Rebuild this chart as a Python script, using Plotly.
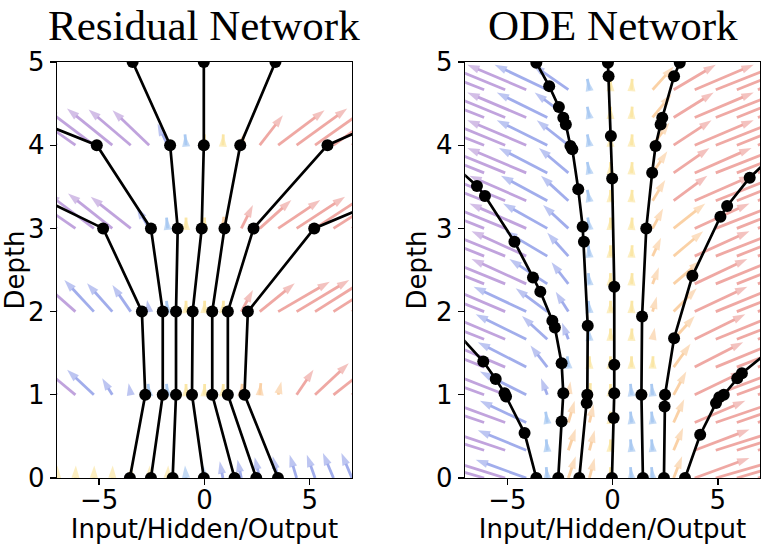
import plotly.graph_objects as go

# ---------------- data ----------------
# Residual network: hidden state at each integer depth
res_depth = [0, 1, 2, 3, 4, 5]
res_traj_a = [-3.54, -2.81, -2.97, -4.81, -12.9, -21.0]
res_traj_b = [-2.54, -1.98, -1.98, -2.54, -5.11, -15.0]
res_traj_c = [-1.51, -1.35, -1.35, -1.27, -1.63, -3.41]
res_traj_d = [-0.03, -0.59, -0.56, -0.13, -0.03, -0.03]
res_traj_e = [1.43, 0.37, 0.37, 0.95, 1.70, 3.37]
res_traj_f = [2.46, 1.11, 1.11, 2.33, 5.84, 14.7]
res_traj_g = [3.49, 1.90, 2.06, 5.21, 14.6, 23.0]

# Residual vector field (tails on a grid, one row per depth)
res_field_x = [-7, -6.125, -5.25, -4.375, -3.5, -2.625, -1.75, -0.875, 0,
               0.875, 1.75, 2.625, 3.5, 4.375, 5.25, 6.125, 7]
res_field_y = [0, 1, 2, 3, 4]
res_field_dx = [
    [0.02, 0.02, 0.02, 0.02, 0.02, 0.03, 0.03, -0.05, -0.05, -0.15, -0.18, -0.24, -0.26, -0.33, -0.39, -0.5, -0.5],
    [-2.0, -1.9, -1.27, -0.48, -0.1, -0.05, -0.05, 0.0, 0.01, 0.02, 0.04, 0.05, 0.15, 0.8, 1.6, 2.0, 2.2],
    [-2.2, -1.8, -1.4, -1.2, -0.87, -0.1, -0.05, 0.0, 0.01, 0.03, 0.55, 1.66, 2.45, 2.5, 2.5, 2.5, 2.5],
    [-2.6, -2.4, -2.2, -2.1, -1.9, -0.6, -0.05, 0.0, 0.01, 0.04, 0.55, 1.5, 2.0, 2.3, 2.4, 2.5, 2.5],
    [-2.6, -2.5, -2.3, -2.15, -2.0, -1.74, -0.48, -0.05, 0.0, 0.02, 0.15, 1.1, 2.2, 2.4, 2.5, 2.5, 2.6],
]
res_field_dy = [
    [0.15, 0.15, 0.15, 0.15, 0.15, 0.15, 0.15, 0.15, 0.15, 0.2, 0.22, 0.25, 0.26, 0.28, 0.28, 0.3, 0.3],
    [0.4, 0.4, 0.3, 0.2, 0.14, 0.13, 0.13, 0.13, 0.13, 0.13, 0.13, 0.14, 0.16, 0.3, 0.38, 0.4, 0.4],
    [0.4, 0.4, 0.38, 0.34, 0.32, 0.14, 0.13, 0.13, 0.13, 0.13, 0.26, 0.34, 0.36, 0.38, 0.4, 0.4, 0.4],
    [0.42, 0.42, 0.42, 0.42, 0.38, 0.26, 0.13, 0.13, 0.13, 0.14, 0.28, 0.34, 0.34, 0.38, 0.4, 0.4, 0.4],
    [0.45, 0.45, 0.44, 0.44, 0.43, 0.42, 0.26, 0.13, 0.13, 0.13, 0.16, 0.36, 0.42, 0.44, 0.45, 0.45, 0.45],
]

# ODE network: solver evaluation points along each trajectory
ode_a_x = [-3.62, -4.18, -5.06, -5.13, -5.55, -6.14, -8.3]
ode_a_y = [0, 0.54, 0.98, 1.02, 1.19, 1.40, 2.0]
ode_b_x = [-2.58, -2.42, -2.34, -2.42, -2.74, -2.86, -3.43, -3.78, -4.66, -6.06, -6.44, -8.6]
ode_b_y = [0, 0.68, 1.02, 1.38, 1.81, 1.89, 2.24, 2.41, 2.84, 3.39, 3.51, 4.0]
ode_c_x = [-1.58, -1.23, -1.20, -1.18, -1.36, -1.42, -1.63, -1.91, -2.0, -2.22, -2.34, -2.55, -3.01, -3.62]
ode_c_y = [0, 0.90, 1.0, 1.83, 2.84, 3.02, 3.47, 3.95, 3.99, 4.25, 4.33, 4.46, 4.71, 4.99]
ode_d_x = [-0.03, 0.05, 0.08, 0.08, 0.08, -0.02, -0.08, -0.19, -0.22]
ode_d_y = [0, 0.72, 1.02, 1.36, 2.30, 3.60, 4.11, 4.83, 4.99]
ode_e_x = [1.44, 1.37, 1.40, 1.60, 1.88, 2.04, 2.28, 2.36, 2.92, 3.19]
ode_e_y = [0, 1.0, 1.94, 3.0, 3.67, 3.99, 4.25, 4.33, 4.83, 4.99]
ode_f_x = [2.44, 2.47, 2.49, 2.92, 3.79, 5.12, 5.44, 6.51, 8.0]
ode_f_y = [0, 0.86, 1.0, 1.68, 2.43, 3.14, 3.27, 3.61, 3.97]
ode_g_x = [3.44, 4.16, 4.91, 5.07, 5.28, 5.92, 6.14, 7.8]
ode_g_y = [0, 0.52, 0.90, 0.97, 1.0, 1.20, 1.26, 1.6]

# ODE vector field
ode_field_x = [-6.1, -5.1, -4.1, -3.1, -2.1, -1.1, -0.1, 0.9, 1.9, 2.9, 3.9, 4.9, 5.9, 6.9]
ode_field_y = [0, 0.333, 0.667, 1.0, 1.333, 1.667, 2.0, 2.333, 2.667, 3.0, 3.333, 3.667, 4.0, 4.333, 4.667]
ode_field_dx = [
    [-3.0, -2.8, -2.4, -0.05, 0.35, 0.25, 0.0, -0.05, -0.05, 0.4, 2.6, 3.0, 3.0, 3.0],
    [-3.0, -2.8, -2.3, -0.05, 0.35, 0.25, 0.0, -0.05, -0.05, 0.45, 2.6, 3.0, 3.0, 3.0],
    [-3.0, -2.8, -2.2, -0.08, 0.3, 0.2, 0.0, -0.05, -0.05, 0.5, 2.4, 3.0, 3.0, 3.0],
    [-3.0, -2.8, -2.2, -0.3, 0.1, 0.05, 0.0, -0.05, -0.05, 0.6, 2.3, 2.9, 3.0, 3.0],
    [-3.0, -2.8, -2.3, -0.8, -0.05, 0.0, 0.0, 0.0, 0.02, 0.8, 2.3, 2.9, 3.0, 3.0],
    [-3.0, -2.8, -2.4, -1.2, -0.3, -0.05, 0.0, 0.02, 0.1, 1.0, 2.4, 2.9, 3.0, 3.0],
    [-3.0, -2.8, -2.5, -1.5, -0.6, -0.05, 0.0, 0.02, 0.2, 1.1, 2.5, 2.9, 3.0, 3.0],
    [-3.0, -2.9, -2.6, -1.8, -0.8, -0.05, 0.0, 0.03, 0.3, 1.3, 2.5, 2.9, 3.0, 3.0],
    [-3.0, -2.9, -2.6, -2.0, -1.0, -0.05, 0.0, 0.03, 0.4, 1.4, 2.6, 3.0, 3.0, 3.0],
    [-3.0, -2.9, -2.7, -2.1, -1.2, -0.08, 0.0, 0.03, 0.5, 1.5, 2.6, 3.0, 3.0, 3.0],
    [-3.0, -2.9, -2.7, -2.2, -1.3, -0.1, 0.0, 0.03, 0.6, 1.6, 2.7, 3.0, 3.0, 3.0],
    [-3.0, -2.9, -2.8, -2.3, -1.4, -0.1, 0.0, 0.03, 0.7, 1.7, 2.7, 3.0, 3.0, 3.0],
    [-3.0, -2.9, -2.8, -2.4, -1.5, -0.1, 0.0, 0.03, 0.8, 1.8, 2.8, 3.0, 3.0, 3.0],
    [-3.0, -2.9, -2.8, -2.4, -1.6, -0.1, 0.0, 0.03, 0.9, 1.9, 2.8, 3.0, 3.0, 3.0],
    [-3.0, -2.9, -2.8, -2.5, -1.7, -0.1, 0.0, 0.03, 1.0, 2.0, 2.8, 3.0, 3.0, 3.0],
]
ode_field_dy = [
    [0.22, 0.22, 0.22, 0.13, 0.26, 0.24, 0.13, 0.13, 0.13, 0.26, 0.24, 0.22, 0.22, 0.22],
    [0.24, 0.24, 0.24, 0.13, 0.26, 0.24, 0.13, 0.13, 0.13, 0.27, 0.25, 0.24, 0.24, 0.24],
    [0.26, 0.26, 0.26, 0.13, 0.26, 0.22, 0.13, 0.13, 0.13, 0.28, 0.26, 0.26, 0.26, 0.26],
    [0.28, 0.28, 0.28, 0.2, 0.16, 0.14, 0.13, 0.13, 0.13, 0.28, 0.28, 0.28, 0.28, 0.28],
    [0.3, 0.3, 0.3, 0.26, 0.13, 0.13, 0.13, 0.13, 0.13, 0.28, 0.3, 0.3, 0.3, 0.3],
    [0.3, 0.3, 0.3, 0.28, 0.2, 0.13, 0.13, 0.13, 0.14, 0.28, 0.3, 0.3, 0.3, 0.3],
    [0.3, 0.3, 0.3, 0.28, 0.24, 0.13, 0.13, 0.13, 0.18, 0.28, 0.3, 0.3, 0.3, 0.3],
    [0.3, 0.3, 0.3, 0.3, 0.26, 0.13, 0.13, 0.13, 0.2, 0.28, 0.3, 0.3, 0.3, 0.3],
    [0.3, 0.3, 0.3, 0.3, 0.28, 0.13, 0.13, 0.13, 0.22, 0.3, 0.3, 0.3, 0.3, 0.3],
    [0.3, 0.3, 0.3, 0.3, 0.28, 0.13, 0.13, 0.13, 0.24, 0.3, 0.3, 0.3, 0.3, 0.3],
    [0.3, 0.3, 0.3, 0.3, 0.3, 0.13, 0.13, 0.13, 0.25, 0.3, 0.3, 0.3, 0.3, 0.3],
    [0.3, 0.3, 0.3, 0.3, 0.3, 0.13, 0.13, 0.13, 0.26, 0.3, 0.3, 0.3, 0.3, 0.3],
    [0.3, 0.3, 0.3, 0.3, 0.3, 0.13, 0.13, 0.13, 0.27, 0.3, 0.3, 0.3, 0.3, 0.3],
    [0.3, 0.3, 0.3, 0.3, 0.3, 0.13, 0.13, 0.13, 0.28, 0.3, 0.3, 0.3, 0.3, 0.3],
    [0.3, 0.3, 0.3, 0.3, 0.3, 0.13, 0.13, 0.13, 0.28, 0.3, 0.3, 0.3, 0.3, 0.3],
]

titles = ["Residual Network", "ODE Network"]
x_title = "Input/Hidden/Output"
y_title = "Depth"
x_ticks = [-5, 0, 5]
y_ticks = [0, 1, 2, 3, 4, 5]

# ---------------- style ----------------
PURPLE = "rgb(125,65,185)"
BLUE = "rgb(60,85,215)"
LBLUE = "rgb(80,145,228)"
YELLOW = "rgb(246,205,70)"
ORANGE = "rgb(245,160,70)"
RED = "rgb(222,75,65)"
ARROW_ALPHA = 0.48

res_bins = [(-1.6, PURPLE), (-0.1, BLUE), (-0.02, LBLUE), (0.03, YELLOW), (0.4, ORANGE), (99, RED)]
ode_bins = [(-2.6, PURPLE), (-0.15, BLUE), (-0.02, LBLUE), (0.05, YELLOW), (1.5, ORANGE), (99, RED)]


def pick_color(u, bins):
    for lim, col in bins:
        if u <= lim:
            return col
    return bins[-1][1]


def arrow_traces(fx, fy, fdx, fdy, bins, xa, ya):
    groups = {}
    for r, y0 in enumerate(fy):
        for c, x0 in enumerate(fx):
            u, v = fdx[r][c], fdy[r][c]
            col = pick_color(u, bins)
            gx, gy, gs = groups.setdefault(col, ([], [], []))
            gx.extend([x0, x0 + u, None])
            gy.extend([y0, y0 + v, None])
            gs.extend([0, 13, 0])
    out = []
    for col, (gx, gy, gs) in groups.items():
        out.append(go.Scatter(
            x=gx, y=gy, mode="lines+markers", xaxis=xa, yaxis=ya,
            line=dict(color=col, width=2.8),
            marker=dict(symbol="arrow", size=gs, color=col, angleref="previous",
                        line=dict(width=0)),
            opacity=ARROW_ALPHA, hoverinfo="skip", showlegend=False, cliponaxis=True))
    return out


fig = go.Figure()
for t in arrow_traces(res_field_x, res_field_y, res_field_dx, res_field_dy, res_bins, "x", "y"):
    fig.add_trace(t)
for t in arrow_traces(ode_field_x, ode_field_y, ode_field_dx, ode_field_dy, ode_bins, "x2", "y2"):
    fig.add_trace(t)

traj_style = dict(mode="lines+markers", line=dict(color="black", width=2.7),
                  marker=dict(color="black", size=12), hoverinfo="skip",
                  showlegend=False, cliponaxis=True)
for tr in [res_traj_a, res_traj_b, res_traj_c, res_traj_d, res_traj_e, res_traj_f, res_traj_g]:
    fig.add_trace(go.Scatter(x=tr, y=res_depth, xaxis="x", yaxis="y", **traj_style))
for tx, ty in [(ode_a_x, ode_a_y), (ode_b_x, ode_b_y), (ode_c_x, ode_c_y), (ode_d_x, ode_d_y),
               (ode_e_x, ode_e_y), (ode_f_x, ode_f_y), (ode_g_x, ode_g_y)]:
    fig.add_trace(go.Scatter(x=tx, y=ty, xaxis="x2", yaxis="y2", **traj_style))

FONT = "DejaVu Sans"
axis_common = dict(showline=True, mirror=True, linecolor="black", linewidth=1.3,
                   ticks="outside", ticklen=6, tickwidth=1.3, tickcolor="black",
                   showgrid=False, zeroline=False,
                   tickfont=dict(family=FONT, size=26, color="black"))

xa = dict(range=[-7, 7], tickvals=x_ticks, ticklabelstandoff=-8,
          title=dict(text=x_title, font=dict(family=FONT, size=26, color="black"), standoff=2),
          **axis_common)
ya = dict(range=[0, 5], tickvals=y_ticks, ticklabelstandoff=0,
          title=dict(text=y_title, font=dict(family=FONT, size=26, color="black"), standoff=2),
          **axis_common)

L_DOM = [0.0, 0.4195]
R_DOM = [0.5806, 1.0]
fig.update_layout(
    width=768, height=555,
    margin=dict(l=57, r=8, t=62, b=77),
    paper_bgcolor="white", plot_bgcolor="white", showlegend=False,
    xaxis=dict(domain=L_DOM, anchor="y", **xa),
    yaxis=dict(domain=[0, 1], anchor="x", **ya),
    xaxis2=dict(domain=R_DOM, anchor="y2", **xa),
    yaxis2=dict(domain=[0, 1], anchor="x2", **ya),
)
for dom, text in zip([L_DOM, R_DOM], titles):
    fig.add_annotation(text=text, x=(dom[0] + dom[1]) / 2, y=1.088, xref="paper", yref="paper",
                       xanchor="center", yanchor="middle", showarrow=False,
                       font=dict(family="Liberation Serif", size=43, color="black"))

# remove the browser's default 8px page margin so the figure fills the window exactly
fig.write_html("out.html",
               config={"displayModeBar": False, "staticPlot": True},
               post_script="document.body.style.margin='0';document.body.style.overflow='hidden';")
